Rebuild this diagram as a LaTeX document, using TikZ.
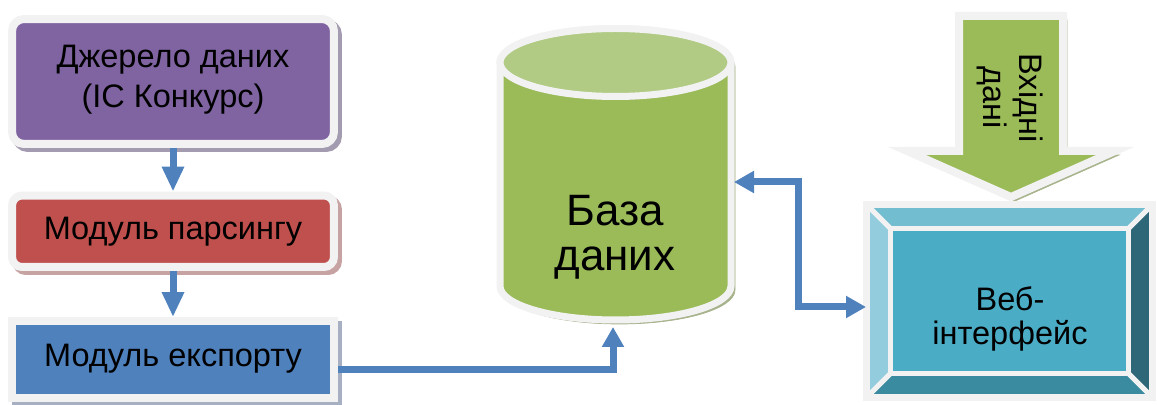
\documentclass[tikz,border=0pt]{standalone}
\usepackage{fontspec}
\setmainfont{Liberation Sans}
\usetikzlibrary{arrows.meta,shadows,calc}
\definecolor{rim}{HTML}{F2F2F2}
\definecolor{pu}{HTML}{8064A2}
\definecolor{re}{HTML}{C0504D}
\definecolor{bl}{HTML}{4F81BD}
\definecolor{gr}{HTML}{9BBB59}
\definecolor{grl}{HTML}{B1CB84}
\definecolor{te}{HTML}{4BACC6}
\definecolor{tetop}{HTML}{72BDD0}
\definecolor{teleft}{HTML}{93CDDD}
\definecolor{teright}{HTML}{2E6878}
\definecolor{tebot}{HTML}{3A8BA0}
\definecolor{push}{HTML}{A39BAF}
\definecolor{resh}{HTML}{C6A2A2}
\definecolor{blsh}{HTML}{A6B0C2}
\definecolor{grsh}{HTML}{A7B38C}

\begin{document}
\begin{tikzpicture}[x=0.02cm, y=-0.02cm,
  box/.style={draw=rim, line width=0.16cm, align=center, minimum width=6.44cm,
    font=\fontsize{18.5}{23}\selectfont},
  shade/.style={drop shadow={shadow xshift=0.08cm, shadow yshift=-0.08cm,
    fill=#1, draw=#1, opacity=1}},
  flow/.style={draw=bl, line width=0.14cm, -{Triangle[length=0.5cm, width=0.42cm]}},
  link/.style={draw=bl, line width=0.14cm},
  ahead/.tip={Triangle[length=0.4cm, width=0.42cm]}]

  \useasboundingbox (0,0) rectangle (1157,405);

  % Source
  \node[box, fill=pu, rounded corners=0.24cm, minimum height=2.5cm, text depth=6pt, shade=push]
    (source) at (173,81.5) {Джерело даних\\(ІС Конкурс)};

  % Parser
  \node[box, fill=re, rounded corners=0.2cm, minimum height=1.43cm, shade=resh]
    (parser) at (173,231.25) {Модуль парсингу};

  % Export
  \node[box, fill=bl, minimum height=1.55cm, text depth=5.5pt, shade=blsh]
    (export) at (173,359.75) {Модуль експорту};

  \draw[flow] (source) -- (parser);
  \draw[flow] (parser) -- (export);

  % Database
  \filldraw[fill=gr, draw=rim, line width=0.14cm, shade=grsh] (500,62.5) -- (500,286)
    arc [start angle=180, end angle=0, x radius=115.5, y radius=34]
    -- (731,62.5)
    arc [start angle=0, end angle=-180, x radius=115.5, y radius=34] -- cycle;
  \filldraw[fill=grl, draw=rim, line width=0.14cm] (615.5,62.5) ellipse [x radius=115.5, y radius=34];
  \coordinate (dbbottom) at (613,327);
  \coordinate (dbright) at (734,182);
  \node[align=center, font=\fontsize{25}{25.6}\selectfont] (dbtext) at (615,237) {База\\даних};

  % Input
  \filldraw[fill=gr, draw=rim, line width=0.16cm, shade=grsh] (959,16) -- (1063,16) -- (1063,151)
    -- (1115,151) -- (1011,197) -- (907,151) -- (959,151) -- cycle;
  \node[align=center, rotate=-90, font=\fontsize{18.5}{21}\selectfont] (input) at (1010,98) {Вхідні\\дані};

  % Web interface
  \node[minimum width=5.74cm, minimum height=3.88cm, outer sep=0pt] (web) at (1009.5,301) {};
  \coordinate (inNW) at ($(web.north west)+(24,24)$);
  \coordinate (inNE) at ($(web.north east)+(-24,24)$);
  \coordinate (inSE) at ($(web.south east)+(-24,-24)$);
  \coordinate (inSW) at ($(web.south west)+(24,-24)$);
  \fill[tetop] (web.north west) -- (web.north east) -- (inNE) -- (inNW) -- cycle;
  \fill[teright] (web.north east) -- (web.south east) -- (inSE) -- (inNE) -- cycle;
  \fill[tebot] (web.south east) -- (web.south west) -- (inSW) -- (inSE) -- cycle;
  \fill[teleft] (web.south west) -- (web.north west) -- (inNW) -- (inSW) -- cycle;
  \draw[rim, line width=0.1cm] (web.north west) -- (inNW) (web.north east) -- (inNE)
    (web.south east) -- (inSE) (web.south west) -- (inSW);
  \filldraw[fill=te, draw=rim, line width=0.1cm] (inNW) rectangle (inSE);
  \draw[rim, line width=0.14cm] (web.north west) rectangle (web.south east);
  \node[align=center, font=\fontsize{18.5}{19.5}\selectfont] (webtext) at (1010,319) {Веб-\\інтерфейс};

  % Links
  \draw[link, -ahead] ([yshift=-0.2cm]export.east) -| (dbbottom);
  \draw[link, ahead-ahead] (dbright) -- ++(64,0) |- ([yshift=-0.12cm]web.west);
\end{tikzpicture}
\end{document}
